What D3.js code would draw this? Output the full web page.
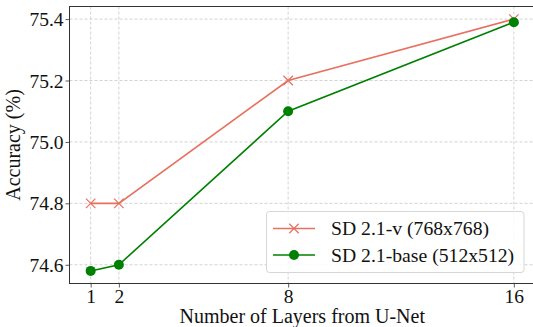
<!DOCTYPE html>
<html>
<head>
<meta charset="utf-8">
<script src="https://cdn.jsdelivr.net/npm/d3@7"></script>
</head>
<body style="margin:0">
<svg id="chart" width="533" height="327"></svg>
<script>
// data
const layers = [1, 2, 8, 16];
const sdV = [74.8, 74.8, 75.2, 75.4];
const sdBase = [74.58, 74.60, 75.10, 75.39];
const xTicks = [1, 2, 8, 16];
const yTicks = [74.6, 74.8, 75.0, 75.2, 75.4];
const seriesNames = ["SD 2.1-v (768x768)", "SD 2.1-base (512x512)"];

const plotL = 69.5, plotR = 535, plotT = 6.5, plotB = 283.5;

const svg = d3.select("#chart");

const x = d3.scaleLinear().domain([0.25, 16.75]).range([plotL, plotR]);
const y = d3.scaleLinear().domain([74.539, 75.441]).range([plotB, plotT]);

// grid
const grid = svg.append("g")
  .attr("stroke", "#c8c8c8")
  .attr("stroke-width", 0.8)
  .attr("stroke-dasharray", "3,2");
grid.selectAll("line.gx").data(xTicks).enter().append("line")
  .attr("x1", d => x(d)).attr("x2", d => x(d))
  .attr("y1", plotT).attr("y2", plotB);
grid.selectAll("line.gy").data(yTicks).enter().append("line")
  .attr("x1", plotL).attr("x2", plotR)
  .attr("y1", d => y(d)).attr("y2", d => y(d));

// axes
const xAxis = svg.append("g")
  .attr("transform", "translate(0," + plotB + ")")
  .call(d3.axisBottom(x).tickValues(xTicks).tickFormat(d3.format("d")).tickSize(4).tickSizeOuter(0));
const yAxis = svg.append("g")
  .attr("transform", "translate(" + plotL + ",0)")
  .call(d3.axisLeft(y).tickValues(yTicks).tickFormat(d3.format(".1f")).tickSize(4).tickSizeOuter(0));

[xAxis, yAxis].forEach(a => {
  a.attr("font-family", null).attr("font-size", null);
  a.select(".domain").remove();
  a.selectAll(".tick line").attr("stroke", "#333").attr("stroke-width", 0.8);
  a.selectAll(".tick text").attr("fill", "#111").attr("font-size", 19.5);
});
xAxis.selectAll(".tick text").attr("y", 6).attr("dy", "0.68em");
yAxis.selectAll(".tick text").attr("x", -6).attr("dy", "0.34em");

// frame
svg.append("rect")
  .attr("x", plotL).attr("y", plotT)
  .attr("width", plotR - plotL).attr("height", plotB - plotT)
  .attr("fill", "none").attr("stroke", "#333").attr("stroke-width", 1);

// lines
const line = d3.line().x((d, i) => x(layers[i])).y(d => y(d));

const redC = "#e8705f", greenC = "#008000";

svg.append("path").datum(sdV)
  .attr("d", line).attr("fill", "none")
  .attr("stroke", redC).attr("stroke-width", 1.6);

svg.append("path").datum(sdBase)
  .attr("d", line).attr("fill", "none")
  .attr("stroke", greenC).attr("stroke-width", 1.6);

const xMark = d3.symbol().type(d3.symbolTimes).size(60);

svg.selectAll("path.mv").data(sdV).enter().append("path")
  .attr("d", xMark)
  .attr("transform", (d, i) => "translate(" + x(layers[i]) + "," + y(d) + ")")
  .attr("fill", "none").attr("stroke", redC).attr("stroke-width", 1.2);

svg.selectAll("circle.mb").data(sdBase).enter().append("circle")
  .attr("cx", (d, i) => x(layers[i])).attr("cy", d => y(d))
  .attr("r", 5).attr("fill", greenC);

// legend
const lg = svg.append("g");
lg.append("rect")
  .attr("x", 266.5).attr("y", 211.5).attr("width", 257.5).attr("height", 61)
  .attr("rx", 3).attr("fill", "#fff").attr("fill-opacity", 0.85)
  .attr("stroke", "#d6d6d6").attr("stroke-width", 1);

const rows = [
  { name: seriesNames[0], color: redC, mark: "x", yy: 228.5 },
  { name: seriesNames[1], color: greenC, mark: "o", yy: 255 }
];
rows.forEach(r => {
  lg.append("line").attr("x1", 273).attr("x2", 315)
    .attr("y1", r.yy).attr("y2", r.yy)
    .attr("stroke", r.color).attr("stroke-width", 1.6);
  if (r.mark === "x") {
    lg.append("path").attr("d", xMark)
      .attr("transform", "translate(294," + r.yy + ")")
      .attr("fill", "none").attr("stroke", r.color).attr("stroke-width", 1.2);
  } else {
    lg.append("circle").attr("cx", 294).attr("cy", r.yy).attr("r", 5).attr("fill", r.color);
  }
  lg.append("text").attr("x", 331).attr("y", r.yy).attr("dy", "0.35em")
    .attr("font-size", 19.7).attr("fill", "#111").text(r.name);
});

// axis titles
svg.append("text")
  .attr("x", (plotL + plotR) / 2).attr("y", 323)
  .attr("text-anchor", "middle").attr("font-size", 20).attr("fill", "#111")
  .text("Number of Layers from U-Net");

svg.append("text")
  .attr("transform", "translate(20," + ((plotT + plotB) / 2) + ") rotate(-90)")
  .attr("text-anchor", "middle").attr("font-size", 20).attr("fill", "#111")
  .text("Accuracy (%)");

// same font on every text, set on the element itself
svg.selectAll("text").attr("font-family", "Times New Roman");
</script>
</body>
</html>
